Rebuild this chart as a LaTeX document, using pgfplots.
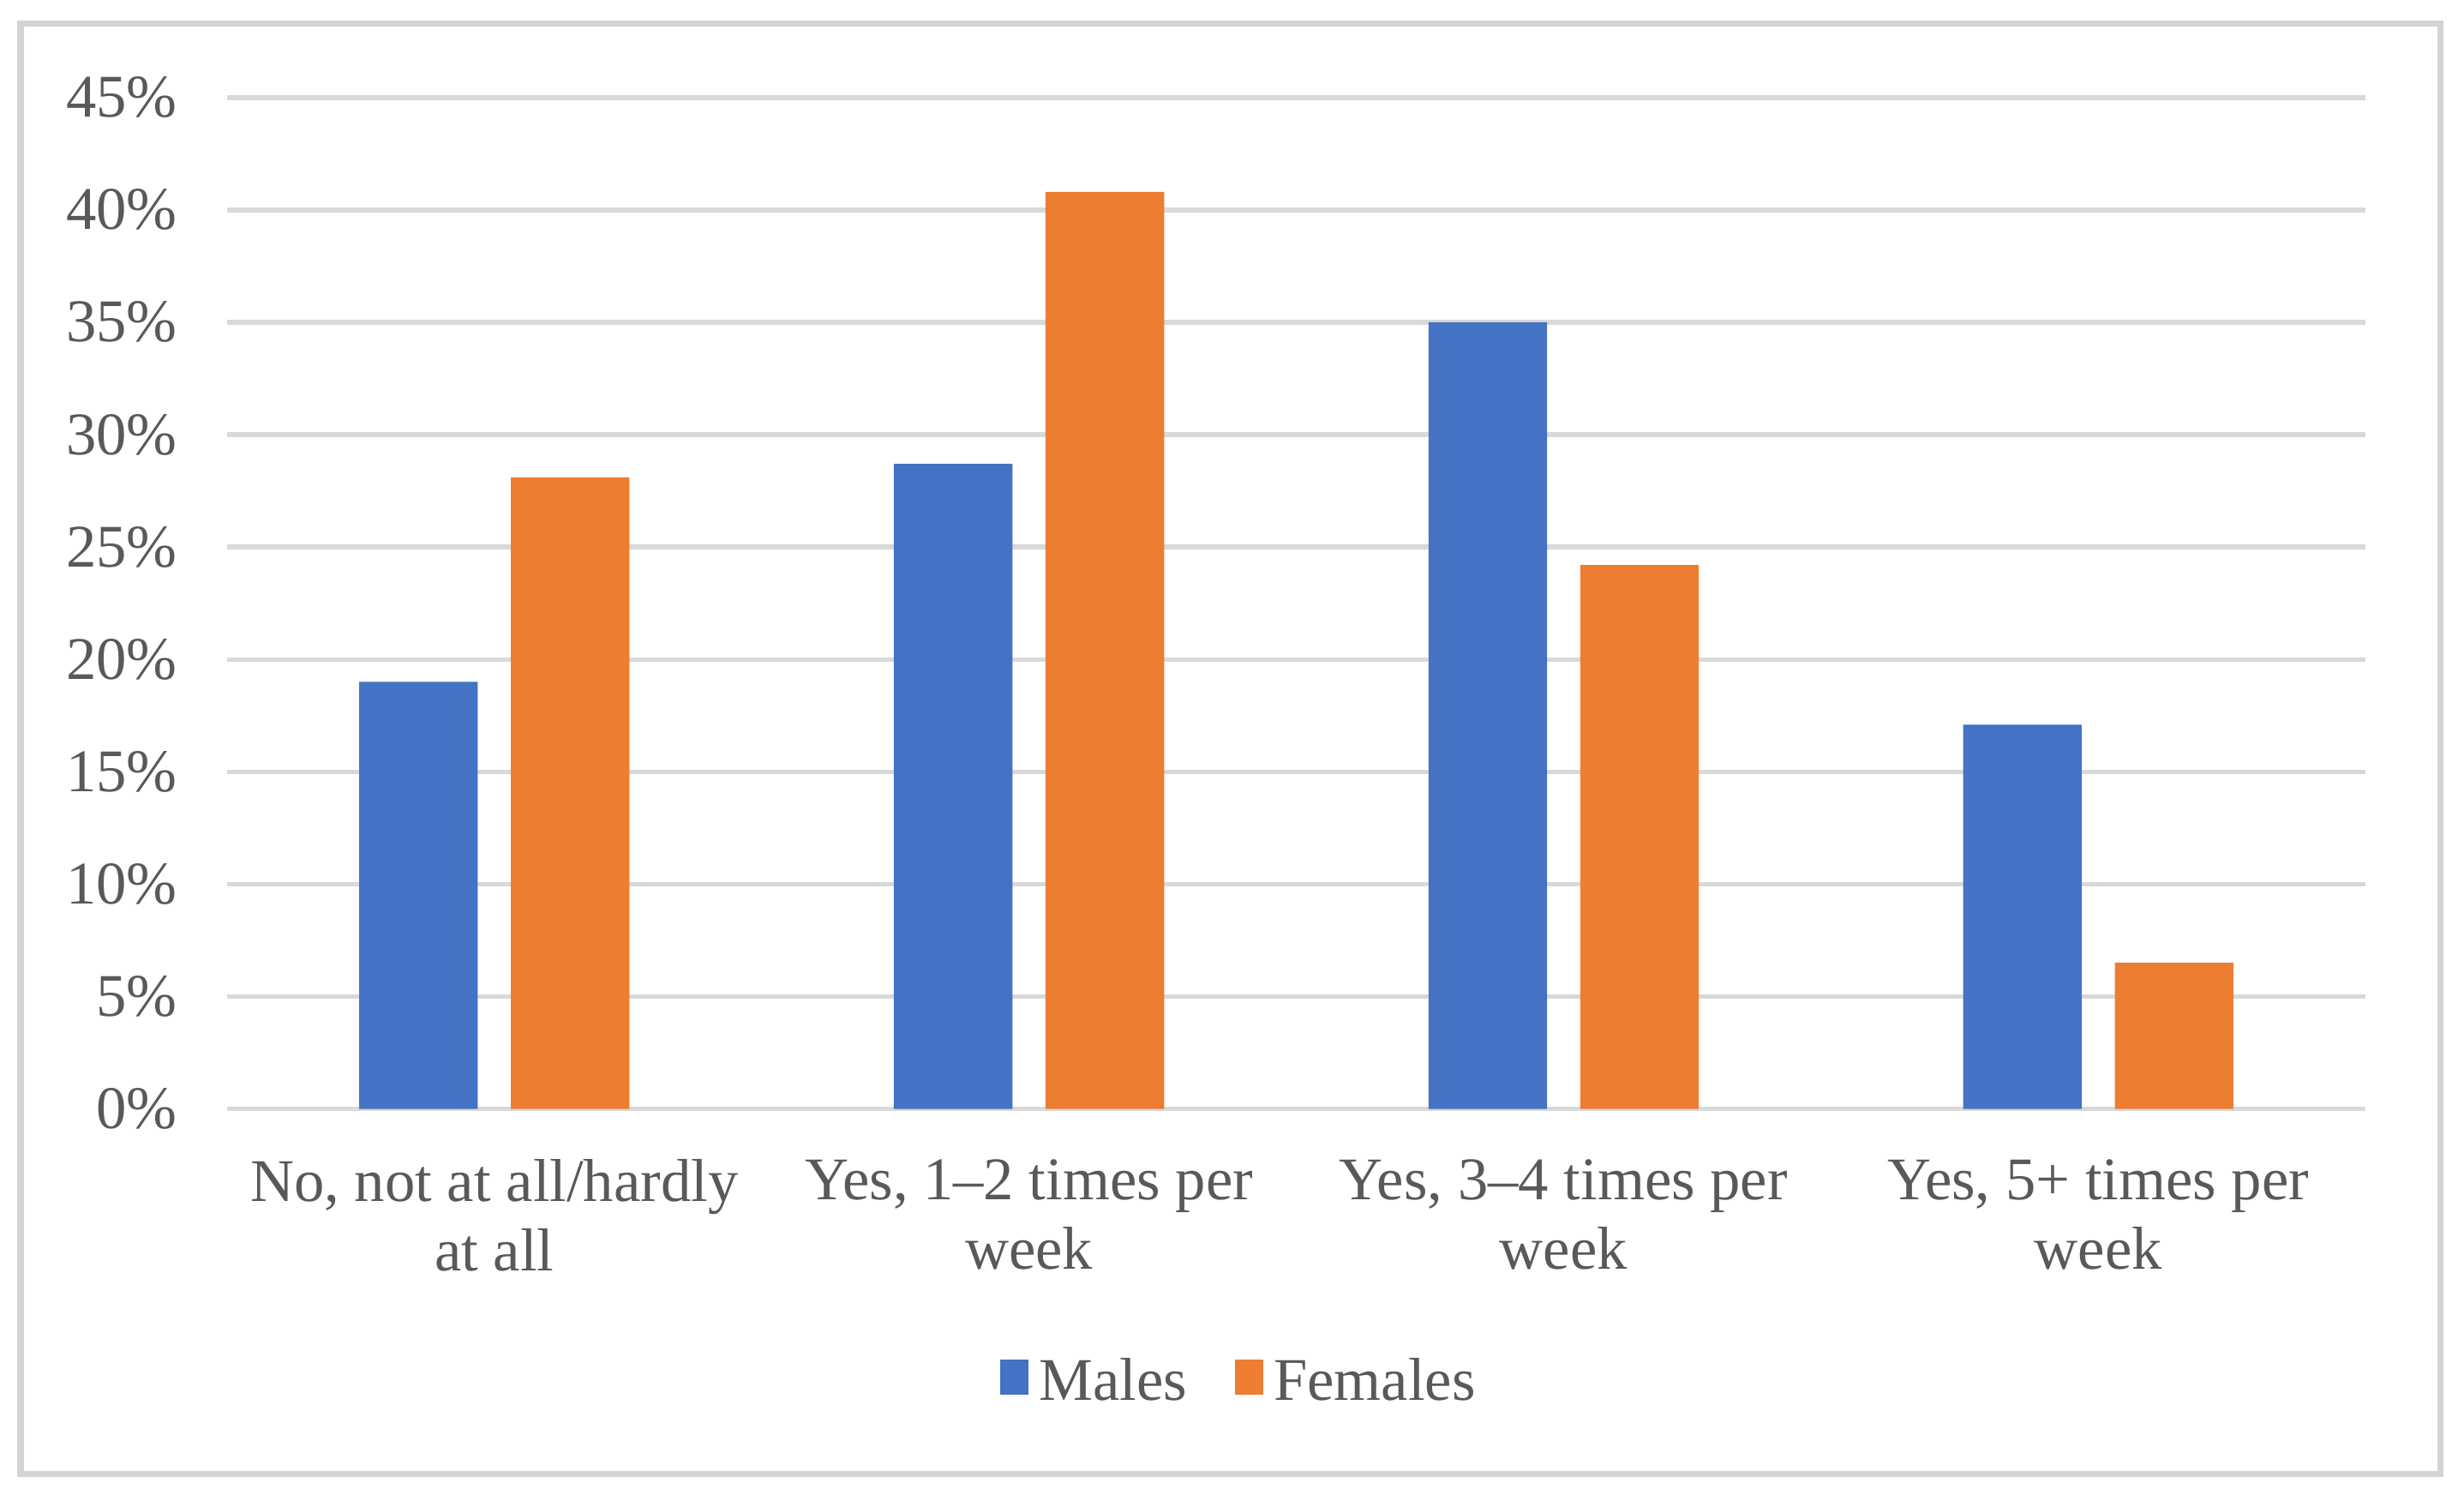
\documentclass[border=0pt]{standalone}
\usepackage{pgfplots}
\pgfplotsset{compat=1.18}
\usepackage{fontspec}
\setmainfont{Liberation Serif}
\definecolor{mblue}{HTML}{4472C4}
\definecolor{forange}{HTML}{ED7D31}
\definecolor{gridgray}{HTML}{D9D9D9}
\definecolor{txtgray}{HTML}{595959}
\definecolor{framegray}{HTML}{D4D4D4}

\begin{document}
\begin{tikzpicture}
    \begin{axis}[
            scale only axis,
            width=406pt,
            height=192pt,
            xmin=-0.5, xmax=3.5,
            ymin=0, ymax=45,
            ybar=6.3pt,
            bar width=22.5pt,
            clip=false,
            axis line style={draw=none},
            tick style={draw=none},
            major tick length=0pt,
            ymajorgrids,
            grid style={gridgray, line width=0.9pt},
            xtick={0,1,2,3},
            xticklabels={{No, not at all/hardly\\at all},{Yes, 1–2 times per\\week},{Yes, 3–4 times per\\week},{Yes, 5+ times per\\week}},
            ytick={0,5,...,45},
            yticklabel={\pgfmathprintnumber{\tick}\%},
            /pgf/number format/assume math mode=true,
            tick label style={font=\fontsize{11.5}{13.2}\selectfont, text=txtgray},
            xticklabel style={align=center, anchor=north, inner sep=0pt, yshift=-9.4pt},
            yticklabel style={anchor=east, inner sep=0pt, xshift=-9.3pt},
            legend columns=2,
            legend style={
                    at={(0.4752,-0.2714)}, anchor=center,
                    draw=none, fill=none,
                    font=\fontsize{11.5}{13.2}\selectfont, text=txtgray,
                    /tikz/every even column/.append style={column sep=7pt},
                },
            legend image code/.code={\fill[#1] (0pt,-2.2pt) rectangle (5.4pt,4.6pt);},
        ]
        \addplot[fill=mblue, draw=none] coordinates {(0,19.0) (1,28.7) (2,35.0) (3,17.1)};
        \addplot[fill=forange, draw=none] coordinates {(0,28.1) (1,40.8) (2,24.2) (3,6.5)};
        \legend{Males, Females}
        \draw[framegray, line width=1.2pt] (rel axis cs:-0.0966,-0.3609) rectangle (rel axis cs:1.0350,1.0729);
        \path (rel axis cs:-0.1062,-0.3813) rectangle (rel axis cs:1.0461,1.0964);
    \end{axis}
\end{tikzpicture}
\end{document}
